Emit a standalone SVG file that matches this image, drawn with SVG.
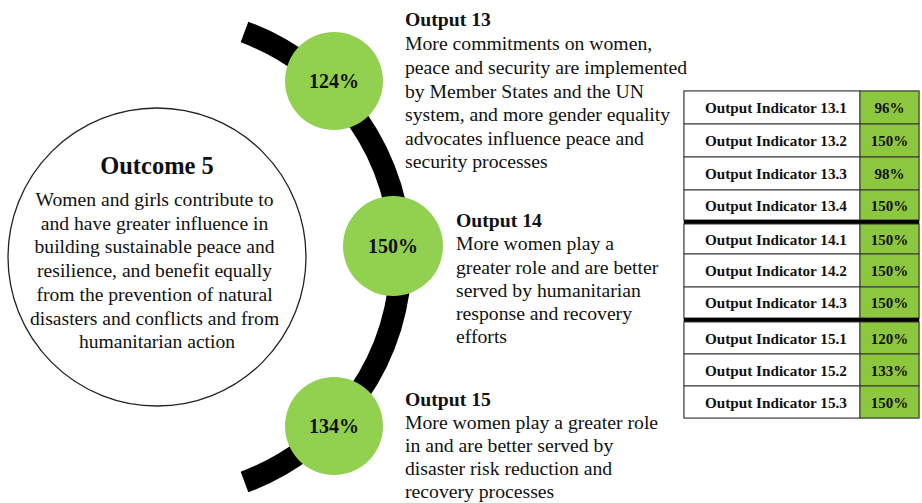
<svg xmlns="http://www.w3.org/2000/svg" width="922" height="503" viewBox="0 0 922 503">
<style>
.t{font-family:"Liberation Serif","Times New Roman",serif;fill:#111}
.b{font-weight:bold}
.body{font-size:19.6px}
.out{font-size:19.7px}
.pct{font-size:20px;font-weight:bold;text-anchor:middle}
.ind{font-size:15.2px;font-weight:bold;text-anchor:middle}
.val{font-size:15px;font-weight:bold;text-anchor:middle}
.g{fill:#92D050}
.cellw{fill:#fff;stroke:#333;stroke-width:1}
.cellg{fill:#8DC63F;stroke:#333;stroke-width:1}
.sep{fill:#000}
</style>
<rect width="922" height="503" fill="#fff"/>
<g id="connectors">
<path d="M 244.5 32 A 240 240 0 0 1 244.5 482" fill="none" stroke="#000" stroke-width="22"/>
</g>
<g id="outcome5">
<circle cx="157" cy="257" r="149" fill="#fff" stroke="#222" stroke-width="1.3"/>
<text class="t b" x="157" y="174" font-size="24.5" text-anchor="middle">Outcome 5</text>
<text class="t body" text-anchor="middle">
<tspan x="157" y="206">Women and girls contribute to</tspan>
<tspan x="157" y="229.7">and have greater influence in</tspan>
<tspan x="157" y="253.4">building sustainable peace and</tspan>
<tspan x="157" y="277.1">resilience, and benefit equally</tspan>
<tspan x="157" y="300.8">from the prevention of natural</tspan>
<tspan x="157" y="324.5">disasters and conflicts and from</tspan>
<tspan x="157" y="348.2">humanitarian action</tspan>
</text>
</g>
<g id="circle124">
<circle class="g" cx="334" cy="81" r="49"/>
<text class="t pct" x="334" y="88">124%</text>
</g>
<g id="circle150">
<circle class="g" cx="393" cy="246" r="50"/>
<text class="t pct" x="393" y="253">150%</text>
</g>
<g id="circle134">
<circle class="g" cx="334" cy="426" r="49"/>
<text class="t pct" x="334" y="433">134%</text>
</g>
<g id="output13">
<text class="t b out" x="405" y="26">Output 13</text>
<text class="t out">
<tspan x="405" y="50">More commitments on women,</tspan>
<tspan x="405" y="74">peace and security are implemented</tspan>
<tspan x="405" y="97.5">by Member States and the UN</tspan>
<tspan x="405" y="121">system, and more gender equality</tspan>
<tspan x="405" y="145">advocates influence peace and</tspan>
<tspan x="405" y="168">security processes</tspan>
</text>
</g>
<g id="output14">
<text class="t b out" x="456" y="227">Output 14</text>
<text class="t out">
<tspan x="456" y="250">More women play a</tspan>
<tspan x="456" y="274">greater role and are better</tspan>
<tspan x="456" y="297">served by humanitarian</tspan>
<tspan x="456" y="320">response and recovery</tspan>
<tspan x="456" y="343">efforts</tspan>
</text>
</g>
<g id="output15">
<text class="t b out" x="405" y="406">Output 15</text>
<text class="t out">
<tspan x="405" y="429">More women play a greater role</tspan>
<tspan x="405" y="452">in and are better served by</tspan>
<tspan x="405" y="475">disaster risk reduction and</tspan>
<tspan x="405" y="498">recovery processes</tspan>
</text>
</g>
<g id="indicator-table">
<rect x="684" y="91" width="235" height="327" fill="#fff" stroke="#777" stroke-width="1"/>
<g id="row-13-1"><rect class="cellw" x="684" y="91" width="176" height="33"/><rect class="cellg" x="860" y="91" width="59" height="33"/><text class="t ind" x="776" y="113">Output Indicator 13.1</text><text class="t val" x="889.5" y="113">96%</text></g>
<g id="row-13-2"><rect class="cellw" x="684" y="124" width="176" height="33"/><rect class="cellg" x="860" y="124" width="59" height="33"/><text class="t ind" x="776" y="146">Output Indicator 13.2</text><text class="t val" x="889.5" y="146">150%</text></g>
<g id="row-13-3"><rect class="cellw" x="684" y="157" width="176" height="33"/><rect class="cellg" x="860" y="157" width="59" height="33"/><text class="t ind" x="776" y="179">Output Indicator 13.3</text><text class="t val" x="889.5" y="179">98%</text></g>
<g id="row-13-4"><rect class="cellw" x="684" y="190" width="176" height="30"/><rect class="cellg" x="860" y="190" width="59" height="30"/><text class="t ind" x="776" y="210.5">Output Indicator 13.4</text><text class="t val" x="889.5" y="210.5">150%</text></g>
<rect class="sep" x="684" y="220" width="235" height="4"/>
<g id="row-14-1"><rect class="cellw" x="684" y="224" width="176" height="30"/><rect class="cellg" x="860" y="224" width="59" height="30"/><text class="t ind" x="776" y="244.5">Output Indicator 14.1</text><text class="t val" x="889.5" y="244.5">150%</text></g>
<g id="row-14-2"><rect class="cellw" x="684" y="254" width="176" height="33"/><rect class="cellg" x="860" y="254" width="59" height="33"/><text class="t ind" x="776" y="276">Output Indicator 14.2</text><text class="t val" x="889.5" y="276">150%</text></g>
<g id="row-14-3"><rect class="cellw" x="684" y="287" width="176" height="31"/><rect class="cellg" x="860" y="287" width="59" height="31"/><text class="t ind" x="776" y="308">Output Indicator 14.3</text><text class="t val" x="889.5" y="308">150%</text></g>
<rect class="sep" x="684" y="318" width="235" height="4"/>
<g id="row-15-1"><rect class="cellw" x="684" y="322" width="176" height="32"/><rect class="cellg" x="860" y="322" width="59" height="32"/><text class="t ind" x="776" y="343.5">Output Indicator 15.1</text><text class="t val" x="889.5" y="343.5">120%</text></g>
<g id="row-15-2"><rect class="cellw" x="684" y="354" width="176" height="32"/><rect class="cellg" x="860" y="354" width="59" height="32"/><text class="t ind" x="776" y="375.5">Output Indicator 15.2</text><text class="t val" x="889.5" y="375.5">133%</text></g>
<g id="row-15-3"><rect class="cellw" x="684" y="386" width="176" height="32"/><rect class="cellg" x="860" y="386" width="59" height="32"/><text class="t ind" x="776" y="407.5">Output Indicator 15.3</text><text class="t val" x="889.5" y="407.5">150%</text></g>
</g>
</svg>
